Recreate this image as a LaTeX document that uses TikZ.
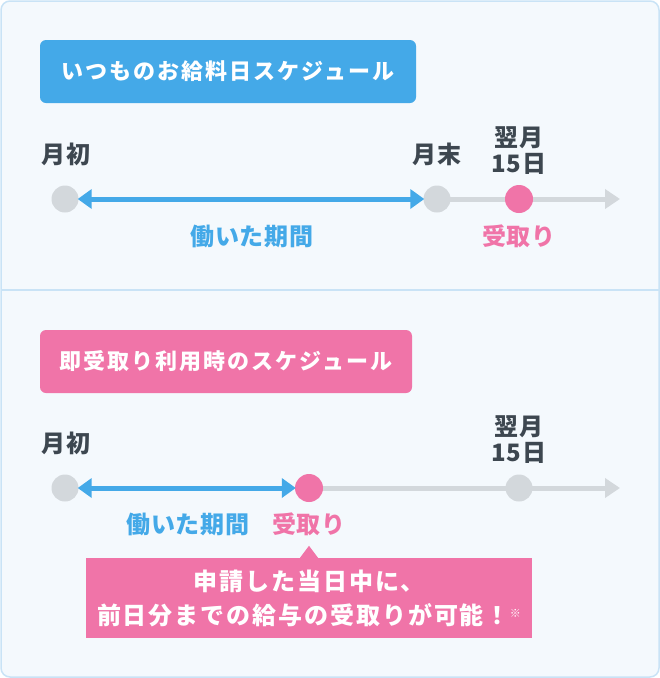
\documentclass[tikz,border=0pt]{standalone}
\usepackage{fontspec}
\setmainfont{Noto Sans CJK JP}
\usepackage{xcolor}
\usetikzlibrary{arrows.meta,positioning}
\definecolor{panelbg}{HTML}{F4F9FD}
\definecolor{paneledge}{HTML}{C9E3F6}
\definecolor{skyblue}{HTML}{44A9E8}
\definecolor{rosepink}{HTML}{F074A8}
\definecolor{dotgray}{HTML}{D3D8DC}
\definecolor{ink}{HTML}{3D4750}
\tikzset{
  lbl/.style={font=\bfseries\fontsize{24}{26}\selectfont\addfontfeatures{LetterSpace=4}, text=ink, inner sep=0pt, align=center},
  header/.style={lbl, text=white, rounded corners=6pt, minimum height=63pt, font=\bfseries\fontsize{22}{26}\selectfont\addfontfeatures{LetterSpace=9}},
  dot/.style={circle, fill=dotgray, minimum size=27pt, inner sep=0pt},
  paydot/.style={dot, fill=rosepink, minimum size=28pt},
  worked/.style={skyblue, line width=5pt, {Triangle[length=14pt,width=19pt]}-{Triangle[length=14pt,width=19pt]}, shorten <=-1pt, shorten >=-1pt},
  track/.style={dotgray, line width=5pt, -{Triangle[length=15pt,width=19pt]}},
}
\begin{document}
\begin{tikzpicture}[x=1pt,y=-1pt]
\useasboundingbox (0,0) rectangle (660,678);
\draw [paneledge, fill=panelbg, line width=1.5pt, rounded corners=9pt] (1,1) rectangle (659,677);
\draw [paneledge, line width=1.5pt] (1,290) -- (659,290);
%%%%%%%%%%%%%%%% usual payday
\node[header, fill=skyblue, minimum width=376pt] (hd1) at (228,71.5) {いつものお給料日スケジュール};
\coordinate (a1) at (65,199);
\coordinate (a2) at (437,199);
\coordinate (a3) at (519,199);
\coordinate (aend) at (620,199);
\draw [track] (a2) -- (aend);
\node[dot] (d1) at (a1) {};
\node[dot] (d2) at (a2) {};
\node[paydot] (d3) at (a3) {};
\draw [worked] (d1) -- (d2);
\node[lbl] (l1) at (66,154) {月初};
\node[lbl] (l2) at (437,154) {月末};
\node[lbl] (l3) at (519,151) {翌月\\15日};
\node[lbl, text=skyblue] (w1) at (252,236) {働いた期間};
\node[lbl, text=rosepink] (r1) at (519,236) {受取り};
%%%%%%%%%%%%%%%% instant pay
\node[header, fill=rosepink, minimum width=372pt] (hd2) at (226,361.5) {即受取り利用時のスケジュール};
\coordinate (b1) at (65,488);
\coordinate (b2) at (309,488);
\coordinate (b3) at (519,488);
\coordinate (bend) at (620,488);
\draw [track] (b2) -- (bend);
\node[dot] (e1) at (b1) {};
\node[paydot] (e2) at (b2) {};
\node[dot] (e3) at (b3) {};
\draw [worked] (e1) -- (e2);
\node[lbl] (m1) at (66,443) {月初};
\node[lbl] (m3) at (519,440) {翌月\\15日};
\node[lbl, text=skyblue] (w2) at (188,524) {働いた期間};
\node[lbl, text=rosepink] (r2) at (309,524) {受取り};
%%%%%%%%%%%%%%%% note
\node[fill=rosepink, minimum width=446pt, minimum height=80pt, inner sep=0pt, align=center, text=white,
      font=\bfseries\fontsize{24}{34}\selectfont\addfontfeatures{LetterSpace=8}] (note) at (309,598)
  {申請した当日中に、\\前日分までの給与の受取りが可能！\raisebox{7pt}{\fontsize{11}{11}\selectfont ※}};
\fill [rosepink] ([xshift=-9pt]note.north) -- ([yshift=12pt]note.north) -- ([xshift=9pt]note.north) -- cycle;
\end{tikzpicture}
\end{document}
